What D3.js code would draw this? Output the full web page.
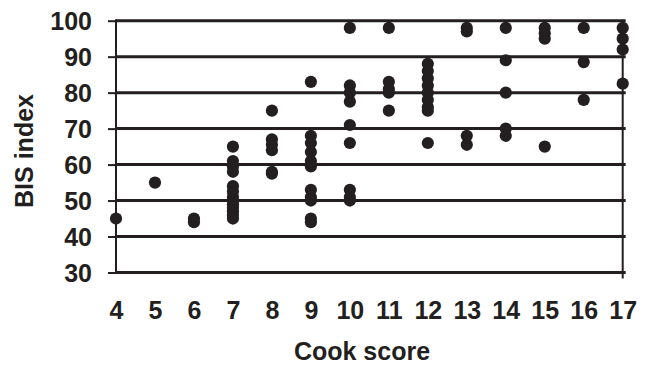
<!DOCTYPE html>
<html>
<head>
<meta charset="utf-8">
<script src="https://cdn.jsdelivr.net/npm/d3@7/dist/d3.min.js"></script>
<style>
  html, body { margin: 0; padding: 0; background: #fff; }
  svg { display: block; }
  text { font-family: "Liberation Sans", Arial, Helvetica, sans-serif; font-weight: bold; fill: #231f20; }
</style>
</head>
<body>
<svg id="chart" width="650" height="365"></svg>
<script>
// Data
const cookScore = [
  4,
  5,
  6, 6,
  7, 7, 7, 7, 7, 7, 7, 7, 7, 7, 7, 7, 7,
  8, 8, 8, 8, 8, 8,
  9, 9, 9, 9, 9, 9, 9, 9, 9, 9, 9,
  10, 10, 10, 10, 10, 10, 10, 10, 10,
  11, 11, 11, 11, 11,
  12, 12, 12, 12, 12, 12, 12, 12, 12,
  13, 13, 13, 13,
  14, 14, 14, 14, 14,
  15, 15, 15, 15,
  16, 16, 16,
  17, 17, 17, 17
];
const bisIndex = [
  45,
  55,
  45, 44,
  65, 61, 59.5, 58, 54, 52.5, 51, 50, 49, 48, 47, 46, 45,
  75, 67, 65.5, 64, 58, 57.5,
  83, 68, 66, 63.5, 61, 59.5, 53, 51, 50, 45, 44,
  98, 82, 80, 77.5, 71, 66, 53, 51, 50,
  98, 83, 81, 80, 75,
  88, 86, 84, 82, 80, 78, 76, 75, 66,
  98, 97, 68, 65.5,
  98, 89, 80, 70, 68,
  98, 96.5, 95, 65,
  98, 88.5, 78,
  98, 95, 92, 82.5
];
const xTicks = [4, 5, 6, 7, 8, 9, 10, 11, 12, 13, 14, 15, 16, 17];
const yTicks = [30, 40, 50, 60, 70, 80, 90, 100];
const xTitle = "Cook score";
const yTitle = "BIS index";

const ink = "#231f20";
const svg = d3.select("#chart");

const x = d3.scaleLinear().domain([4, 17]).range([116, 622.7]);
const y = d3.scaleLinear().domain([30, 100]).range([272.5, 20.7]);

// horizontal gridlines (incl. 30 baseline)
svg.append("g").selectAll("line").data(yTicks).join("line")
  .attr("x1", x(4)).attr("x2", x(17) + 3)
  .attr("y1", d => y(d)).attr("y2", d => y(d))
  .attr("stroke", ink).attr("stroke-width", 3);

// right vertical line
svg.append("line")
  .attr("x1", x(17)).attr("x2", x(17))
  .attr("y1", y(100) - 1).attr("y2", y(30) + 6)
  .attr("stroke", ink).attr("stroke-width", 2);

// y axis
const yAxis = svg.append("g").attr("transform", `translate(${x(4)},0)`)
  .call(d3.axisLeft(y).tickValues(yTicks).tickSize(8).tickPadding(16).tickFormat(d3.format("d")));
yAxis.select(".domain").remove();
yAxis.selectAll(".tick line").attr("stroke", ink).attr("stroke-width", 2);
yAxis.selectAll(".tick text").attr("font-size", 25).attr("fill", ink)
  .attr("font-family", null).attr("dy", "0.36em");
svg.append("line")
  .attr("x1", x(4)).attr("x2", x(4))
  .attr("y1", y(100) - 1.5).attr("y2", y(30) + 1.5)
  .attr("stroke", ink).attr("stroke-width", 2);

// x axis labels
const xAxis = svg.append("g").attr("transform", `translate(0,${y(30)})`)
  .call(d3.axisBottom(x).tickValues(xTicks).tickSize(0).tickPadding(29).tickFormat(d3.format("d")));
xAxis.select(".domain").remove();
xAxis.selectAll(".tick text").attr("font-size", 25).attr("fill", ink).attr("font-family", null);

// points
svg.append("g").selectAll("circle").data(cookScore.map((c, i) => [c, bisIndex[i]])).join("circle")
  .attr("cx", d => x(d[0])).attr("cy", d => y(d[1]))
  .attr("r", 6.1).attr("fill", ink);

// titles
svg.append("text").attr("x", 362).attr("y", 360)
  .attr("text-anchor", "middle").attr("font-size", 25).text(xTitle);
svg.append("text")
  .attr("transform", "translate(33,151) rotate(-90)")
  .attr("text-anchor", "middle").attr("font-size", 25).text(yTitle);
</script>
</body>
</html>
